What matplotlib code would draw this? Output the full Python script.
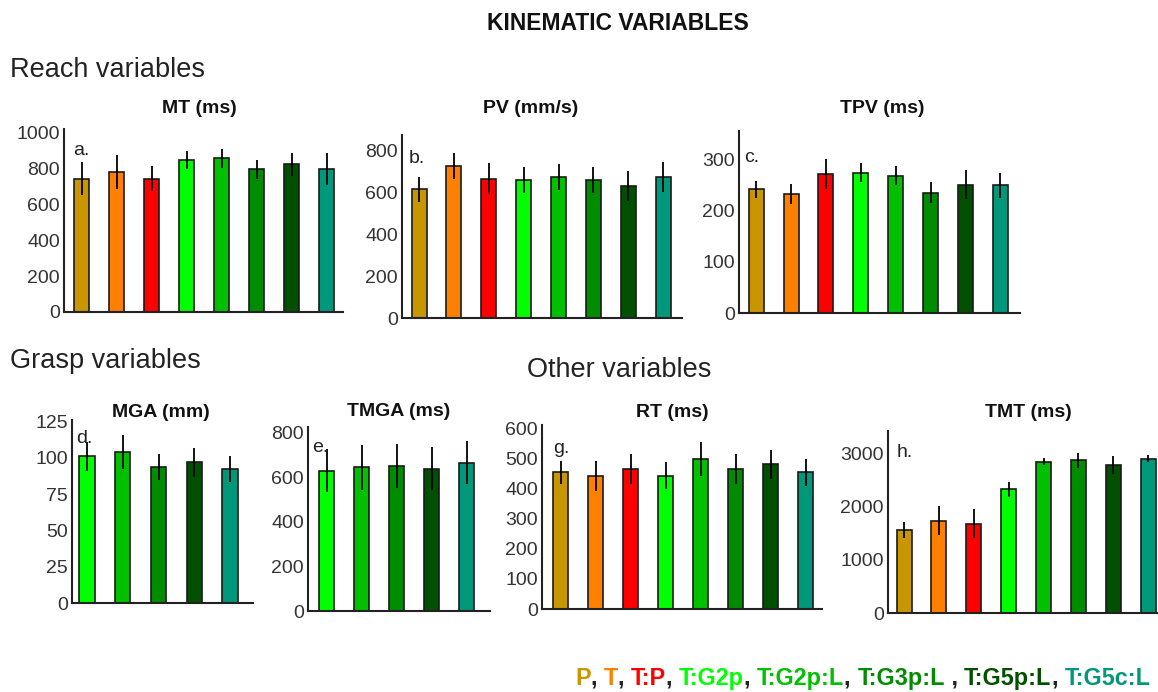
import numpy as np
import matplotlib
matplotlib.use("Agg")
import matplotlib.pyplot as plt
from matplotlib.text import Annotation

plt.rcParams['font.family'] = ['Liberation Sans', 'DejaVu Sans']

# Conditions and colours
conditions = ['P', 'T', 'T:P', 'T:G2p', 'T:G2p:L', 'T:G3p:L', 'T:G5p:L', 'T:G5c:L']
colors = ['#c89600', '#ff8000', '#ff0000', '#00ff00', '#00c000', '#008c00', '#005000', '#00987a']
grasp_idx = [3, 4, 5, 6, 7]

# Reach variables
mt_mean = [745, 782, 745, 850, 858, 798, 824, 798]
mt_err = [93, 97, 72, 51, 55, 53, 65, 90]
pv_mean = [613, 724, 664, 658, 672, 658, 628, 672]
pv_err = [60, 62, 75, 63, 62, 63, 71, 70]
tpv_mean = [241, 232, 271, 274, 268, 235, 250, 249]
tpv_err = [17, 20, 29, 19, 19, 20, 28, 25]

# Grasp variables
mga_mean = [101, 104, 93.6, 97, 92.4]
mga_err = [10, 12, 9, 10, 9]
tmga_mean = [629, 643, 650, 637, 665]
tmga_err = [97, 102, 97, 97, 97]

# Other variables
rt_mean = [454, 443, 464, 443, 499, 464, 480, 454]
rt_err = [39, 50, 50, 45, 57, 50, 47, 44]
tmt_mean = [1562, 1737, 1681, 2325, 2850, 2875, 2787, 2906]
tmt_err = [156, 275, 272, 140, 62, 140, 172, 72]

W, H = 1158, 692
fig = plt.figure(figsize=(W / 100, H / 100), dpi=100)


def rect(l, t, r, b):
    return [l / W, 1 - b / H, (r - l) / W, (b - t) / H]


def fx(x):
    return x / W


def fy(y):
    return 1 - y / H


def panel(box, means, errs, cols, xlim, ylim, yticks, title, title_xy, letter, letter_xy):
    ax = fig.add_axes(rect(*box))
    x = np.arange(len(means))
    ax.bar(x, means, width=0.43, color=cols, edgecolor='#1a1a1a', linewidth=1.2, zorder=2)
    ax.errorbar(x, means, yerr=errs, fmt='none', ecolor='black', elinewidth=1.3,
                capsize=0, zorder=3)
    ax.set_xlim(*xlim)
    ax.set_ylim(*ylim)
    ax.set_xticks([])
    ax.set_yticks(yticks)
    ax.tick_params(axis='y', length=0, pad=3, labelsize=14, labelcolor='#333333')
    for s in ['top', 'right']:
        ax.spines[s].set_visible(False)
    for s in ['left', 'bottom']:
        ax.spines[s].set_color('#222222')
        ax.spines[s].set_linewidth(1.5)
    fig.text(fx(title_xy[0]), fy(title_xy[1]), title, ha='center', va='baseline',
             fontsize=14, fontweight='bold', color='#111111')
    fig.text(fx(letter_xy[0]), fy(letter_xy[1]), letter, ha='left', va='baseline',
             fontsize=14, color='#222222')
    return ax


grasp_cols = [colors[i] for i in grasp_idx]

panel((64, 129, 343, 312), mt_mean, mt_err, colors, (-0.51, 7.46), (0, 1022),
      [0, 200, 400, 600, 800, 1000], 'MT (ms)', (199, 113), 'a.', (73, 155))
panel((402, 135, 682, 318), pv_mean, pv_err, colors, (-0.49, 7.54), (0, 872),
      [0, 200, 400, 600, 800], 'PV (mm/s)', (531, 113), 'b.', (409, 163))
panel((739, 131, 1020, 313), tpv_mean, tpv_err, colors, (-0.49, 7.56), (0, 355),
      [0, 100, 200, 300], 'TPV (ms)', (882, 113), 'c.', (744, 162))
panel((72, 420, 253, 603), mga_mean, mga_err, grasp_cols, (-0.42, 4.64), (0, 126),
      [0, 25, 50, 75, 100, 125], 'MGA (mm)', (161, 417), 'd.', (76, 443))
panel((308, 427, 490, 611), tmga_mean, tmga_err, grasp_cols, (-0.54, 4.66), (0, 824),
      [0, 200, 400, 600, 800], 'TMGA (ms)', (399, 416), 'e.', (312, 452))
panel((542, 425, 822, 609), rt_mean, rt_err, colors, (-0.54, 7.46), (0, 611),
      [0, 100, 200, 300, 400, 500, 600], 'RT (ms)', (672, 417), 'g.', (553, 453))
panel((888, 431, 1158, 613), tmt_mean, tmt_err, colors, (-0.46, 7.28), (0, 3425),
      [0, 1000, 2000, 3000], 'TMT (ms)', (1028, 417), 'h.', (897, 457))

# Headings
fig.text(fx(618), fy(30), 'KINEMATIC VARIABLES', ha='center', va='baseline',
         fontsize=16.5, fontweight='bold', color='#111111')
fig.text(fx(10), fy(77), 'Reach variables', ha='left', va='baseline', fontsize=19.5, color='#222222')
fig.text(fx(10), fy(368), 'Grasp variables', ha='left', va='baseline', fontsize=19.5, color='#222222')
fig.text(fx(527), fy(377), 'Other variables', ha='left', va='baseline', fontsize=19.5, color='#222222')

# Coloured legend line, each piece starts where the previous one ends
pieces = []
for i, (name, col) in enumerate(zip(conditions, colors)):
    pieces.append((name, col))
    if i < len(conditions) - 1:
        pieces.append((' , ' if name == 'T:G3p:L' else ', ', '#222222'))

ann = fig.text(fx(575), fy(685), pieces[0][0], ha='left', va='baseline',
               fontsize=16.8, fontweight='bold', color=pieces[0][1])
for txt, col in pieces[1:]:
    ann = fig.add_artist(Annotation(txt, xy=(1, 0), xycoords=ann, ha='left', va='bottom',
                                    fontsize=16.8, fontweight='bold', color=col))

fig.savefig('out.png', dpi=100)
